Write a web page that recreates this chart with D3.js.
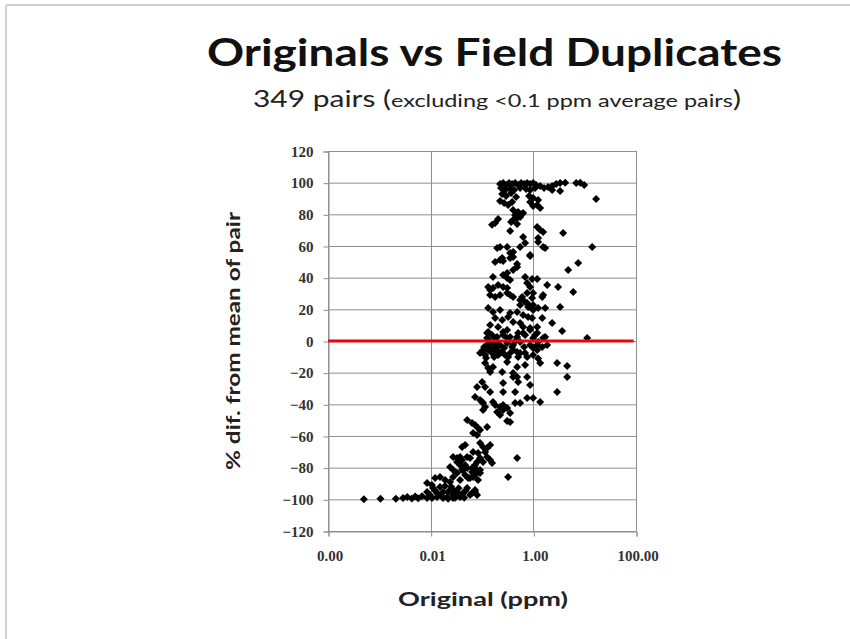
<!DOCTYPE html>
<html>
<head>
<meta charset="utf-8">
<script src="https://cdn.jsdelivr.net/npm/d3@7"></script>
<style>
  html, body { margin: 0; padding: 0; background: #fff; }
  svg { display: block; }
</style>
</head>
<body>
<svg id="chart" width="850" height="639"></svg>
<script>
// Original assay (ppm) vs % difference from the mean of each original/duplicate pair.
// Pairs are grouped by band of % difference.
const bottomTail = [
  [0.0005,-100],[0.00105,-99.6],[0.0021,-99.6],[0.0029,-99.2],[0.0035,-98.5],[0.0043,-99.4],
  [0.005,-98.2],[0.0057,-99.3],[0.0068,-98.0],[0.0085,-99.2],[0.0106,-99.2],[0.0133,-98.5],
  [0.0175,-99.2],[0.0219,-99.7],[0.0274,-99.2],[0.0085,-95.4],[0.0097,-97.3],[0.0111,-92.9],
  [0.0133,-96.0],[0.0152,-92.2],[0.0175,-95.4],[0.0209,-98.5],[0.0239,-94.1],[0.0274,-97.3],
  [0.0327,-95.4],[0.0374,-98.5],[0.0429,-96.0],[0.0513,-92.9],[0.0586,-97.3],[0.0733,-95.4],
  [0.0802,-97.3],[0.0085,-89.7],[0.0106,-91.0],[0.0219,-95.4],[0.0274,-94.1],[0.0343,-96.0],
  [0.0409,-97.3],[0.0641,-96.0],[0.0733,-94.1],[0.0122,-86.5],[0.0152,-85.9],[0.0191,-87.8],
  [0.0239,-89.1],[0.0274,-85.9],[0.0374,-87.8],[0.0469,-84.6],[0.0586,-86.5],[0.0733,-84.6],
  [0.0839,-87.8],[0.0671,-85.9],[0.0537,-86.5],[0.323,-85.9],[0.0122,-94.5],[0.0160,-97.8],
  [0.0190,-91.5],[0.0250,-92.0],[0.0300,-99.0],[0.0350,-93.0],[0.0450,-99.0],[0.0480,-94.5]
];
const risingLimb = [
  [0.0239,-79.6],[0.0274,-81.5],[0.0327,-83.4],[0.0409,-81.5],[0.0513,-80.2],[0.0641,-82.8],
  [0.0802,-81.5],[0.0918,-83.4],[0.0374,-78.3],[0.0429,-81.5],[0.0733,-78.3],[0.0918,-81.5],
  [0.0274,-73.3],[0.0327,-73.9],[0.0409,-75.2],[0.0513,-73.3],[0.0918,-73.9],[0.105,-76.4],
  [0.157,-77.1],[0.483,-73.9],[0.0374,-73.3],[0.0586,-73.9],[0.0671,-70.1],[0.0839,-70.8],
  [0.126,-73.3],[0.144,-75.2],[0.0409,-67.0],[0.0469,-65.7],[0.0918,-64.4],[0.105,-67.0],
  [0.126,-67.6],[0.144,-65.7],[0.115,-70.1],[0.0327,-76.4],[0.0469,-78.3],[0.0641,-80.2],
  [0.0802,-76.4],[0.0513,-49.9],[0.0641,-51.8],[0.0733,-53.1],[0.0839,-55.0],[0.0918,-56.2],
  [0.0802,-59.4],[0.126,-54.3],[0.0671,-58.1],[0.225,-46.7],[0.309,-50.5],[0.353,-51.2],
  [0.105,-43.6],[0.197,-44.9],[0.258,-43.6],[0.353,-45.5],[0.115,-41.7],[0.225,-41.7],[0.309,-42.3]
];
const negativeBand = [
  [0.0918,-37.3],[0.1005,-38.5],[0.105,-39.2],[0.164,-38.5],[0.180,-40.4],[0.258,-40.4],
  [0.442,-39.2],[0.553,-39.2],[0.757,-36.0],[1.36,-38.5],[0.0733,-35.4],[0.99,-36.0],
  [0.0802,-29.1],[0.1005,-25.9],[0.115,-29.1],[0.144,-32.2],[0.258,-26.5],[0.483,-22.7],
  [0.506,-25.9],[0.866,-27.8],[0.258,-32.2],[0.442,-32.2],[2.91,-32.2],[0.404,-22.7],
  [0.757,-22.7],[4.56,-22.7],[0.115,-13.9],[0.132,-17.1],[0.144,-19.6],[0.164,-16.4],
  [0.247,-19.6],[0.404,-20.2],[0.692,-15.2],[0.483,-16.4],[0.309,-13.3],[1.36,-13.9],
  [2.91,-13.9],[4.56,-15.8],[0.692,-7.6],[0.99,-8.8],[0.1005,-6.9],[0.115,-8.8],
  [0.132,-5.7],[0.157,-7.6],[0.180,-5.7],[0.206,-8.8],[0.247,-6.9],[0.282,-8.8],
  [0.353,-7.6],[0.483,-6.9],[0.506,-10.1],[0.126,-2.5],[0.164,-1.3],[0.225,-2.5],
  [0.309,-1.3],[0.404,-2.5],[0.553,-0.6],[1.19,-2.5],[1.49,-3.8],[1.86,-2.5],
  [1.24,-0.6],[0.0918,-7.6],[0.105,-5.7],[0.553,-7.6],[0.757,-10.1],[1.19,-5.7],
  [0.404,-5.7],[0.225,-7.6],[0.197,-5.7],[0.110,-3.8],[0.144,-4.4],[0.188,-3.8],
  [0.270,-4.4],[0.386,-3.8],[0.120,-10.7],[0.172,-10.1],[0.323,-10.1],[0.662,-3.8],
  [0.866,-2.5],[0.144,-0.3],[0.197,-0.5],[0.442,-0.2],[1.24,-11.0],[1.0,-4.5]
];
const positiveBand = [
  [0.126,5.1],[0.157,3.8],[0.197,2.5],[0.258,3.8],[0.353,2.5],[0.506,5.1],[0.692,3.8],
  [1.08,3.8],[1.70,2.5],[11.2,1.9],[0.144,10.1],[0.206,8.8],[0.309,6.9],[0.633,8.8],
  [0.866,8.2],[1.19,8.8],[3.64,6.3],[0.180,14.5],[0.247,13.3],[0.323,15.2],[0.404,12.0],
  [0.553,11.4],[0.948,14.5],[1.49,14.5],[2.32,11.4],[0.132,20.8],[0.164,18.3],[0.225,19.6],
  [0.353,17.7],[0.483,18.3],[0.633,16.4],[0.792,15.2],[0.99,19.6],[1.24,20.8],[1.70,20.8],
  [0.126,1.9],[0.180,1.9],[0.309,1.9],[0.483,2.5],[0.99,1.9],[1.55,1.9],[0.132,5.7],
  [0.258,5.7],[0.633,5.1],[0.866,6.9],[1.19,5.1],[0.553,22.7],[0.692,24.6],[0.792,21.5],
  [3.33,21.5],[0.757,24.0],[0.99,22.7],[0.866,21.5],[0.144,29.1],[0.180,27.8],[0.225,29.1],
  [0.309,30.3],[0.404,27.8],[0.605,27.8],[0.757,30.3],[0.948,27.2],[1.49,27.8],[5.97,31.0],
  [0.132,34.1],[0.164,33.5],[0.206,35.4],[0.258,34.1],[0.309,33.5],[1.86,35.4],[3.04,34.1],
  [0.164,40.4],[0.258,41.7],[0.309,39.8],[0.353,38.5],[0.692,40.4],[0.948,39.2],[1.19,39.2],
  [0.757,36.6],[0.866,34.1],[0.353,29.1],[0.553,25.9],[0.99,30.3],[1.55,29.1],[0.144,32.2],
  [0.180,49.9],[0.225,51.2],[0.258,50.5],[0.404,53.1],[0.866,53.7],[0.483,48.6],[4.77,44.9],
  [7.47,49.3],[0.404,44.9],[0.483,46.7],[0.309,43.0],[0.247,52.4],[0.353,52.4],[0.353,55.6],
  [0.404,56.2],[0.197,58.7],[0.225,59.4],[0.309,59.4],[0.553,59.4],[0.866,54.3],[1.55,59.4],
  [1.70,58.7],[14.0,59.4]
];
const topBand = [
  [0.692,61.9],[1.24,62.5],[0.180,74.5],[0.157,73.5],[0.206,77.1],[0.353,69.5],[0.442,79.6],
  [0.483,77.7],[0.553,78.3],[0.633,80.9],[0.404,76.4],[1.19,72.0],[1.36,70.1],[1.55,68.9],
  [3.81,68.2],[0.633,65.7],[1.24,65.1],[0.404,82.8],[0.506,81.5],[0.605,80.2],[0.462,79.0],
  [0.369,75.2],[0.483,73.9],[1.36,84.0],[0.225,88.4],[0.270,87.2],[0.323,85.9],[0.386,87.8],
  [0.866,87.8],[0.99,85.3],[1.19,85.9],[0.247,92.9],[0.295,91.6],[0.369,93.5],[0.462,91.0],
  [0.828,91.6],[0.99,90.3],[1.24,89.1],[16.7,89.7],[0.235,96.7],[0.282,95.4],[0.353,96.0],
  [0.423,95.4],[0.553,96.7],[0.724,96.0],[0.866,95.4],[1.08,96.7],[2.32,95.4],[3.33,94.8],
  [0.225,99.2],[0.258,99.8],[0.295,98.5],[0.337,99.8],[0.386,99.2],[0.442,99.8],[0.506,98.5],
  [0.578,99.8],[0.662,99.2],[0.757,99.8],[0.866,99.2],[0.99,99.8],[1.13,98.5],[1.36,97.9],
  [1.62,96.7],[1.94,97.3],[2.32,97.9],[2.78,99.2],[3.33,99.8],[4.17,100],[6.83,99.8],
  [8.17,100],[9.78,98.5]
];

// Zero-difference reference line
const zeroLine = [[0.0001, 0], [90, 0]];

// Axis ticks
const xTicks = [0.0001, 0.01, 1, 100];
const yTicks = d3.range(-120, 121, 20);

const pairs = [...bottomTail, ...risingLimb, ...negativeBand, ...positiveBand, ...topBand];

const svg = d3.select("#chart");

// Slide frame
svg.append("line").attr("x1", 6).attr("x2", 850).attr("y1", 5).attr("y2", 5)
  .attr("stroke", "#d2d2d2").attr("stroke-width", 2);
svg.append("line").attr("x1", 6).attr("x2", 6).attr("y1", 5).attr("y2", 639)
  .attr("stroke", "#d2d2d2").attr("stroke-width", 2);

const plot = { left: 328, right: 636, top: 151, bottom: 531 };

const x = d3.scaleLog().domain([0.0001, 100]).range([plot.left, plot.right]);
const y = d3.scaleLinear().domain([-120, 120]).range([plot.bottom, plot.top]);

const gridColor = "#8f8f8f";

// Horizontal gridlines
svg.append("g").selectAll("line").data(yTicks).join("line")
  .attr("x1", plot.left).attr("x2", plot.right)
  .attr("y1", d => y(d) + 0.5).attr("y2", d => y(d) + 0.5)
  .attr("stroke", gridColor).attr("stroke-width", 1);

// Vertical gridlines
svg.append("g").selectAll("line").data(xTicks).join("line")
  .attr("x1", d => Math.round(x(d)) + 0.5).attr("x2", d => Math.round(x(d)) + 0.5)
  .attr("y1", plot.top).attr("y2", plot.bottom)
  .attr("stroke", gridColor).attr("stroke-width", 1);

// Axes
const tickFont = "'Liberation Serif', 'DejaVu Serif', serif";
const yAxis = d3.axisLeft(y).tickValues(yTicks).tickSize(5).tickPadding(10).tickFormat(d3.format("d"));
const gy = svg.append("g").attr("transform", `translate(${plot.left + 0.5},0.5)`).call(yAxis);
const xAxis = d3.axisBottom(x).tickValues(xTicks).tickSize(5).tickPadding(14).tickFormat(d3.format(".2f"));
const gx = svg.append("g").attr("transform", `translate(0.5,${plot.bottom + 0.5})`).call(xAxis);
[gx, gy].forEach(g => {
  g.select(".domain").attr("stroke", gridColor);
  g.selectAll(".tick line").attr("stroke", gridColor);
  g.selectAll(".tick text").attr("fill", "#333").attr("font-family", tickFont)
    .attr("font-weight", "bold").attr("font-size", 15);
});
gx.selectAll(".tick text").attr("x", 1);

// Points
svg.append("g").selectAll("path").data(pairs).join("path")
  .attr("d", d3.symbol(d3.symbolSquare, 32))
  .attr("transform", d => `translate(${x(d[0])},${y(d[1])}) rotate(45)`)
  .attr("fill", "#000");

// Zero line
svg.append("path").datum(zeroLine)
  .attr("d", d3.line().x(d => x(d[0])).y(d => y(d[1])))
  .attr("stroke", "#e30613").attr("stroke-width", 3).attr("fill", "none");

// Titles
const sans = "Lato, 'Open Sans', sans-serif";
svg.append("text").attr("x", 207).attr("y", 66)
  .attr("font-family", sans).attr("font-weight", "bold").attr("font-size", 38)
  .attr("fill", "#111").attr("textLength", 575).attr("lengthAdjust", "spacingAndGlyphs")
  .text("Originals vs Field Duplicates");

const sub = svg.append("text").attr("x", 253).attr("y", 107)
  .attr("font-family", sans).attr("fill", "#222")
  .attr("textLength", 488).attr("lengthAdjust", "spacingAndGlyphs");
sub.append("tspan").attr("font-size", 23).text("349 pairs (");
sub.append("tspan").attr("font-size", 18).text("excluding <0.1 ppm average pairs");
sub.append("tspan").attr("font-size", 23).text(")");

svg.append("text").attr("transform", "translate(240,341) rotate(-90)")
  .attr("text-anchor", "middle").attr("font-family", sans).attr("font-weight", "bold")
  .attr("font-size", 19).attr("fill", "#222")
  .attr("textLength", 258).attr("lengthAdjust", "spacingAndGlyphs")
  .text("% dif. from mean of pair");

svg.append("text").attr("x", 483).attr("y", 606)
  .attr("text-anchor", "middle").attr("font-family", sans).attr("font-weight", "bold")
  .attr("font-size", 19).attr("fill", "#222")
  .attr("textLength", 170).attr("lengthAdjust", "spacingAndGlyphs")
  .text("Original (ppm)");
</script>
</body>
</html>
